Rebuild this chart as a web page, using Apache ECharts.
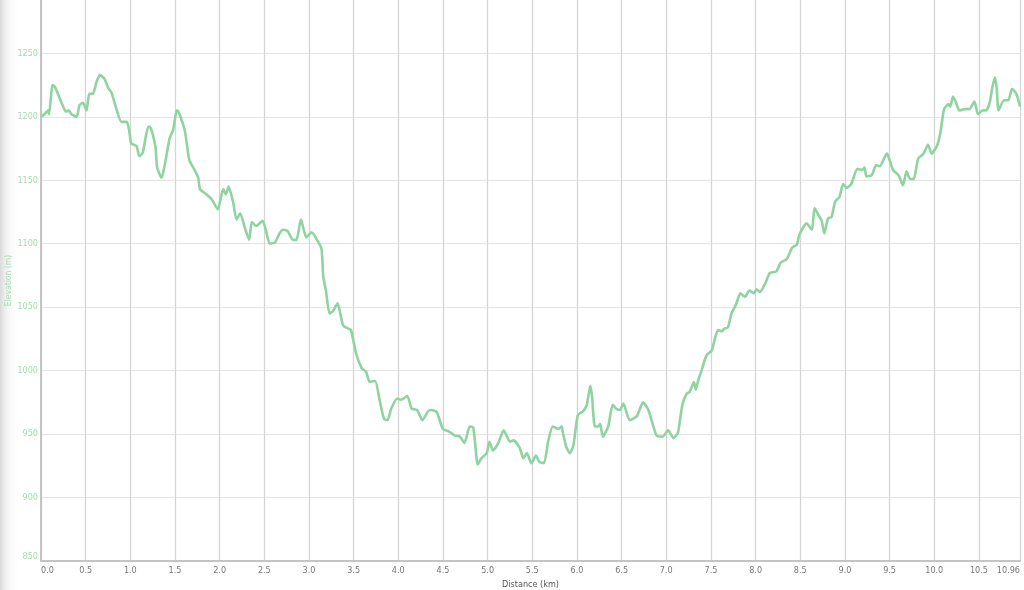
<!DOCTYPE html>
<html>
<head>
<meta charset="utf-8">
<script src="https://cdn.jsdelivr.net/npm/echarts@6/dist/echarts.min.js"></script>
<style>
html,body{margin:0;padding:0;width:1024px;height:590px;overflow:hidden;
background:linear-gradient(to right,#d9d9d9 0px,#efefef 5px,#fafafa 11px,#ffffff 18px);}
#chart{width:1024px;height:590px;}
</style>
</head>
<body>
<div id="chart"></div>
<script>
const distanceKm = [0.00,0.04,0.08,0.09,0.13,0.16,0.23,0.28,0.31,0.34,0.40,0.43,0.47,0.51,0.54,0.58,0.62,0.66,0.71,0.75,0.79,0.84,0.90,0.96,0.99,1.01,1.07,1.10,1.14,1.20,1.22,1.28,1.30,1.35,1.38,1.44,1.48,1.52,1.54,1.61,1.66,1.72,1.76,1.78,1.85,1.91,1.96,1.98,2.04,2.07,2.10,2.15,2.19,2.23,2.28,2.33,2.36,2.41,2.48,2.52,2.56,2.62,2.67,2.71,2.76,2.82,2.86,2.91,2.97,3.03,3.09,3.14,3.16,3.19,3.23,3.27,3.32,3.38,3.44,3.47,3.53,3.59,3.64,3.68,3.74,3.79,3.84,3.88,3.92,3.99,4.03,4.10,4.15,4.21,4.27,4.35,4.42,4.44,4.50,4.57,4.63,4.69,4.74,4.80,4.84,4.89,4.93,4.99,5.02,5.06,5.12,5.18,5.25,5.29,5.36,5.40,5.44,5.49,5.54,5.58,5.63,5.68,5.73,5.79,5.83,5.84,5.88,5.92,5.96,6.01,6.07,6.11,6.15,6.17,6.20,6.24,6.26,6.29,6.35,6.40,6.44,6.48,6.52,6.59,6.67,6.74,6.80,6.89,6.96,7.02,7.08,7.13,7.18,7.23,7.26,7.31,7.33,7.36,7.39,7.45,7.51,7.54,7.58,7.62,7.65,7.69,7.73,7.78,7.83,7.88,7.93,7.98,8.01,8.05,8.11,8.16,8.23,8.28,8.35,8.41,8.46,8.49,8.57,8.63,8.66,8.70,8.74,8.77,8.81,8.85,8.89,8.94,8.98,9.02,9.07,9.14,9.19,9.22,9.24,9.30,9.35,9.39,9.47,9.49,9.54,9.60,9.65,9.69,9.73,9.77,9.82,9.88,9.93,9.97,10.03,10.07,10.11,10.16,10.18,10.21,10.24,10.28,10.34,10.39,10.45,10.49,10.54,10.58,10.62,10.65,10.68,10.70,10.72,10.78,10.83,10.87,10.92,10.96];
const elevationM = [1200,1202,1205,1202,1225,1223,1211,1204,1205,1202,1200,1209,1211,1205,1218,1218,1227,1233,1230,1223,1219,1207,1196,1196,1188,1179,1177,1169,1172,1192,1192,1177,1160,1152,1160,1183,1190,1205,1204,1189,1166,1158,1152,1143,1139,1135,1129,1127,1143,1139,1145,1133,1119,1124,1113,1103,1117,1114,1118,1110,1100,1101,1108,1111,1110,1103,1103,1119,1105,1109,1103,1096,1074,1063,1045,1047,1053,1036,1033,1032,1013,1002,999,991,992,977,962,961,970,978,977,980,970,969,961,969,968,966,954,952,949,948,943,956,955,926,931,935,944,937,943,953,944,945,939,931,935,927,933,928,927,945,956,954,956,952,940,935,941,965,968,973,988,979,956,956,958,948,956,973,970,969,974,961,964,975,969,949,948,953,947,951,973,982,983,991,985,993,999,1012,1016,1024,1032,1031,1033,1034,1045,1052,1061,1058,1063,1061,1064,1062,1069,1077,1078,1085,1088,1097,1099,1107,1116,1111,1128,1123,1118,1108,1120,1121,1133,1137,1147,1144,1147,1159,1158,1160,1153,1154,1162,1161,1171,1168,1158,1154,1146,1157,1151,1151,1167,1171,1178,1171,1177,1188,1206,1210,1208,1216,1212,1205,1206,1206,1212,1202,1205,1205,1211,1223,1231,1222,1205,1213,1213,1222,1218,1208];
const xAxisTitle = 'Distance (km)';
const yAxisTitle = 'Elevation (m)';
const xMin = 0, xMax = 10.96, xStep = 0.5;
const yMin = 850, yMax = 1292, yStep = 50;

const seriesData = distanceKm.map((d, i) => [d, elevationM[i]]);
const FONT = '"DejaVu Sans Condensed", "DejaVu Sans", Verdana, sans-serif';

const chart = echarts.init(document.getElementById('chart'), null, {renderer: 'canvas'});
chart.setOption({
  animation: false,
  grid: {left: 41, right: 4, top: 0, bottom: 29, containLabel: false, outerBoundsMode: 'none'},
  xAxis: {
    type: 'value', min: xMin, max: xMax, interval: xStep,
    name: xAxisTitle, nameLocation: 'middle', nameGap: 19, nameMoveOverlap: false,
    nameTextStyle: {color: '#555', fontSize: 9, fontFamily: FONT},
    axisLine: {show: true, lineStyle: {color: '#c4c4c4', width: 2}},
    axisTick: {show: false},
    axisLabel: {
      color: '#777', fontSize: 9, fontFamily: FONT, margin: 5,
      alignMinLabel: 'left', alignMaxLabel: 'right', hideOverlap: false,
      formatter: v => (Math.abs(v - xMax) < 1e-9 ? String(xMax) : v.toFixed(1))
    },
    splitLine: {show: true, lineStyle: {color: '#d5d5d5', width: 1.3}}
  },
  yAxis: {
    type: 'value', min: yMin, max: yMax, interval: yStep,
    name: yAxisTitle, nameLocation: 'middle', nameGap: 28, nameRotate: 90, nameMoveOverlap: false,
    nameTextStyle: {color: '#a3dbae', fontSize: 8.5, fontFamily: FONT},
    axisLine: {show: true, lineStyle: {color: '#c4c4c4', width: 2}},
    axisTick: {show: false},
    axisLabel: {
      color: '#a3dbae', fontSize: 9, fontFamily: FONT, margin: 3,
      showMaxLabel: false, verticalAlignMinLabel: 'bottom',
      formatter: v => (v % yStep === 0 ? String(v) : '')
    },
    splitLine: {show: true, showMaxLine: false, lineStyle: {color: '#e4e4e4', width: 1.2}}
  },
  series: [{
    type: 'line',
    data: seriesData,
    showSymbol: false,
    smooth: 0.2,
    lineStyle: {color: '#8fd4a0', width: 2.6},
    itemStyle: {color: '#8fd4a0'}
  }]
});
</script>
</body>
</html>
